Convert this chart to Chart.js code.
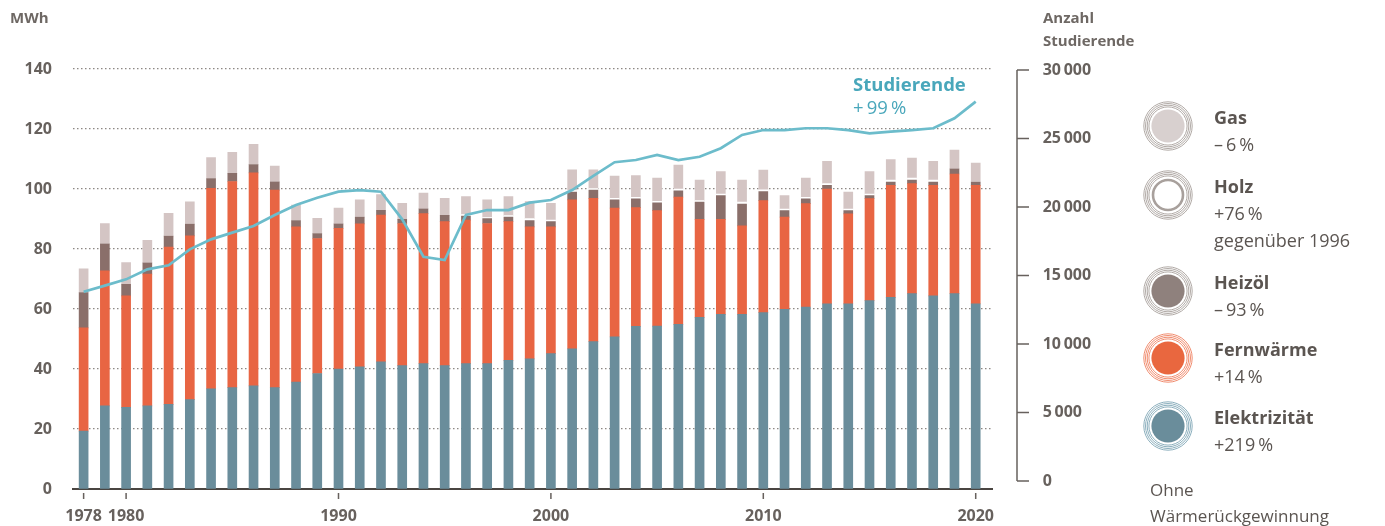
<!DOCTYPE html>
<html lang="de">
<head>
<meta charset="utf-8">
<script src="https://cdn.jsdelivr.net/npm/chart.js@4/dist/chart.umd.min.js"></script>
<style>
  html, body { margin: 0; padding: 0; background: #fff; }
  body { width: 1385px; height: 526px; position: relative; overflow: hidden;
         font-family: "Open Sans", sans-serif; color: #5b5551; }
  #wrap { position: absolute; left: 0; top: 0; width: 1385px; height: 526px; }
  #energyChart { display: block; width: 1385px; height: 526px; }
  .lbl { position: absolute; white-space: nowrap; line-height: 23px; }
  .bold { font-weight: 700; }
  .item { position: absolute; left: 1214px; font-size: 18px; line-height: 27px; white-space: nowrap; }
  .item b { font-weight: 700; }
  .icon { position: absolute; left: 1143px; width: 50px; height: 50px; }
</style>
</head>
<body>
<div id="wrap"><canvas id="energyChart" width="1385" height="526"></canvas></div>

<div class="lbl bold" style="left:10px; top:6px; font-size:15px; color:#6e6864;">MWh</div>
<div class="lbl bold" style="left:1043px; top:6px; font-size:15px; color:#6e6864;">Anzahl</div>
<div class="lbl bold" style="left:1043px; top:29px; font-size:15px; color:#6e6864;">Studierende</div>

<div class="lbl bold" style="left:853px; top:72px; font-size:18.5px; color:#49a7bb;">Studierende</div>
<div class="lbl" style="left:853px; top:95px; font-size:18.5px; color:#49a7bb;">+&#8201;99&#8201;%</div>

<div id="legend"></div>
<div class="lbl" style="left:1150px; top:478px; font-size:17px;">Ohne</div>
<div class="lbl" style="left:1150px; top:504px; font-size:17px;">Wärmerückgewinnung</div>

<script>
// --- data ---
const years = [1978,1979,1980,1981,1982,1983,1984,1985,1986,1987,1988,1989,1990,
  1991,1992,1993,1994,1995,1996,1997,1998,1999,2000,2001,2002,2003,2004,2005,
  2006,2007,2008,2009,2010,2011,2012,2013,2014,2015,2016,2017,2018,2019,2020];

const elektrizitaet = [19.3,27.7,27.2,27.7,28.2,29.8,33.4,33.8,34.4,33.8,35.6,38.5,40.0,
  40.7,42.4,41.1,41.8,41.1,41.8,41.8,42.9,43.4,45.1,46.7,49.1,50.7,54.2,54.3,
  54.9,57.2,58.2,58.2,58.8,59.9,60.6,61.7,61.7,62.8,63.9,65.1,64.4,65.1,61.7];

const fernwaerme = [34.4,45.0,37.2,43.9,52.4,54.6,66.8,68.7,71.0,65.8,51.8,45.0,46.9,
  47.7,48.9,47.4,50.0,48.0,47.8,46.7,46.2,44.0,42.3,49.7,47.8,42.9,39.6,38.5,
  42.4,32.7,31.7,29.5,37.3,30.7,34.5,38.3,30.0,34.0,37.3,36.7,36.8,39.9,39.5];

const heizoel = [11.8,9.0,3.8,3.8,3.7,3.9,3.3,2.7,2.7,2.8,2.1,1.6,1.5,
  2.2,1.6,1.4,1.6,2.1,1.4,1.6,1.5,2.1,1.7,2.6,2.7,2.8,2.9,2.6,
  2.1,5.7,7.9,7.3,3.0,2.2,1.6,1.2,1.1,1.0,1.1,1.2,1.1,1.7,1.1];

const holz = [0,0,0,0,0,0,0,0,0,0,0,0,0,
  0,0,0,0,0,0.5,0.4,0.5,0.6,0.5,0.5,0.5,0.5,0.5,0.5,
  0.6,0.5,0.5,0.6,0.6,0.5,0.5,0.6,0.5,0.5,0.7,0.6,0.7,0,0];

const gas = [7.9,6.8,7.3,7.5,7.6,7.4,7.0,7.0,6.8,5.2,5.1,5.1,5.2,
  5.8,5.2,5.3,5.2,5.7,6.0,5.9,6.4,5.7,5.6,6.9,6.3,7.4,7.3,7.7,
  8.0,6.9,7.5,7.4,6.6,4.5,6.4,7.4,5.7,7.5,6.8,6.7,6.2,6.3,6.3];

const studierende = [13820,14260,14720,15450,15750,16910,17640,18130,18620,19420,20150,20680,21120,
  21240,21120,19100,16370,16130,19420,19780,19780,20320,20510,21240,22270,23270,23430,23800,
  23430,23670,24290,25260,25620,25620,25750,25750,25620,25380,25500,25620,25750,26480,27690];

const leftTicks  = [0,20,40,60,80,100,120,140];
const rightTicks = [0,5000,10000,15000,20000,25000,30000];
const yearTicks  = [1978,1980,1990,2000,2010,2020];

const legendItems = [
  { name: "Gas",          lines: ["–\u20096\u2009%"],              fill: "#d8d0cf", ring: "#a8a09c", top: 104 },
  { name: "Holz",         lines: ["+76\u2009%", "gegenüber 1996"], fill: "#ffffff", ring: "#a8a09c", top: 173, hollow: true },
  { name: "Heizöl",       lines: ["–\u200993\u2009%"],             fill: "#8f817d", ring: "#a8a09c", top: 269 },
  { name: "Fernwärme",    lines: ["+14\u2009%"],                   fill: "#e9673f", ring: "#ee8060", top: 336 },
  { name: "Elektrizität", lines: ["+219\u2009%"],                  fill: "#6a8d9b", ring: "#7fa6b6", top: 404 }
];

const textGray = "#67615d";

// --- legend (HTML + small SVG icons) ---
function buildLegend() {
  const box = document.getElementById("legend");
  legendItems.forEach(it => {
    const cy = it.top + 13.5 + 8;
    let rings = "";
    [24.2, 22.5, 20.8, 19.1].forEach(r => {
      rings += `<circle cx="25" cy="25" r="${r}" fill="none" stroke="${it.ring}" stroke-width="0.9"/>`;
    });
    const core = it.hollow
      ? `<circle cx="25" cy="25" r="15" fill="#fff" stroke="${it.ring}" stroke-width="2.6"/>`
      : `<circle cx="25" cy="25" r="16.6" fill="${it.fill}"/>`;
    const svg = document.createElement("div");
    svg.className = "icon";
    svg.style.top = (cy - 25) + "px";
    svg.innerHTML = `<svg width="50" height="50" viewBox="0 0 50 50">${rings}${core}</svg>`;
    box.appendChild(svg);

    const txt = document.createElement("div");
    txt.className = "item";
    txt.style.top = it.top + "px";
    txt.innerHTML = `<b>${it.name}</b><br>` + it.lines.join("<br>");
    box.appendChild(txt);
  });
}

// right bracket axis + small year ticks
const extrasPlugin = {
  id: "extras",
  afterDraw(chart) {
    const ctx = chart.ctx;
    const y2 = chart.scales.y2;
    const x = chart.scales.x;
    ctx.save();
    ctx.strokeStyle = textGray;
    ctx.lineWidth = 1.5;
    const ax = 1017;
    const top = y2.getPixelForValue(rightTicks[rightTicks.length - 1]);
    const bot = y2.getPixelForValue(rightTicks[0]);
    ctx.beginPath();
    ctx.moveTo(ax, top);
    ctx.lineTo(ax, bot);
    rightTicks.forEach(v => {
      const py = y2.getPixelForValue(v);
      ctx.moveTo(ax, py);
      ctx.lineTo(ax + 12, py);
    });
    yearTicks.forEach(v => {
      const px = x.getPixelForValue(v);
      ctx.moveTo(px, chart.chartArea.bottom + 4);
      ctx.lineTo(px, chart.chartArea.bottom + 10);
    });
    ctx.stroke();
    ctx.restore();
  }
};

function pts(arr) {
  return arr.map((v, i) => ({ x: years[i], y: v }));
}

function renderChart() {
  Chart.defaults.font.family = "'Open Sans', sans-serif";
  const ctx = document.getElementById("energyChart").getContext("2d");
  const tickFont = { size: 16, weight: "bold" };

  const barDs = (label, values, color) => ({
    type: "bar", label, data: pts(values), backgroundColor: color,
    barThickness: 9, borderWidth: 0, yAxisID: "y", order: 1
  });

  new Chart(ctx, {
    data: {
      datasets: [
        { type: "line", label: "Studierende", data: pts(studierende), yAxisID: "y2",
          borderColor: "#6cbccb", borderWidth: 2.7, pointRadius: 0, tension: 0, order: 0 },
        barDs("Elektrizität", elektrizitaet, "#6a8d9b"),
        barDs("Fernwärme", fernwaerme, "#e86543"),
        barDs("Heizöl", heizoel, "#8a6f6a"),
        barDs("Holz", holz, "#ffffff"),
        barDs("Gas", gas, "#d4c5c4")
      ]
    },
    options: {
      responsive: false,
      devicePixelRatio: 1,
      animation: false,
      layout: { padding: { top: 69, left: 0, right: 0, bottom: 0 } },
      plugins: { legend: { display: false }, tooltip: { enabled: false } },
      scales: {
        x: {
          type: "linear", min: 1977.5, max: 2020.8, stacked: true, offset: false,
          afterFit: s => { s.height = 37; },
          afterBuildTicks: s => { s.ticks = yearTicks.map(v => ({ value: v })); },
          grid: { display: false, drawTicks: false },
          border: { display: true, color: "#4a4541", width: 2 },
          ticks: { padding: 18, color: textGray, font: tickFont,
                   callback: v => String(v), maxRotation: 0, autoSkip: false }
        },
        y: {
          position: "left", min: 0, max: 140, stacked: true,
          afterFit: s => { s.width = 73; },
          afterBuildTicks: s => { s.ticks = leftTicks.map(v => ({ value: v })); },
          grid: { drawTicks: true, tickLength: 17, lineWidth: 1.3, tickColor: "rgba(0,0,0,0)",
                  color: c => c.tick && c.tick.value === 0 ? "rgba(0,0,0,0)" : "#8d8884" },
          border: { display: false, dash: [1.5, 2.5] },
          ticks: { padding: 4, color: textGray, font: tickFont }
        },
        y2: {
          position: "right", min: -584, max: 30076,
          afterFit: s => { s.width = 392.3; },
          afterBuildTicks: s => { s.ticks = rightTicks.map(v => ({ value: v })); },
          grid: { display: false, drawTicks: true, tickLength: 46 },
          border: { display: false },
          ticks: { padding: 4, color: textGray, font: tickFont,
                   callback: v => v === 0 ? "0" : Math.floor(v / 1000) + "\u2009000" }
        }
      }
    },
    plugins: [extrasPlugin]
  });
}

document.addEventListener("DOMContentLoaded", () => {
  buildLegend();
  renderChart();
});
</script>
</body>
</html>
